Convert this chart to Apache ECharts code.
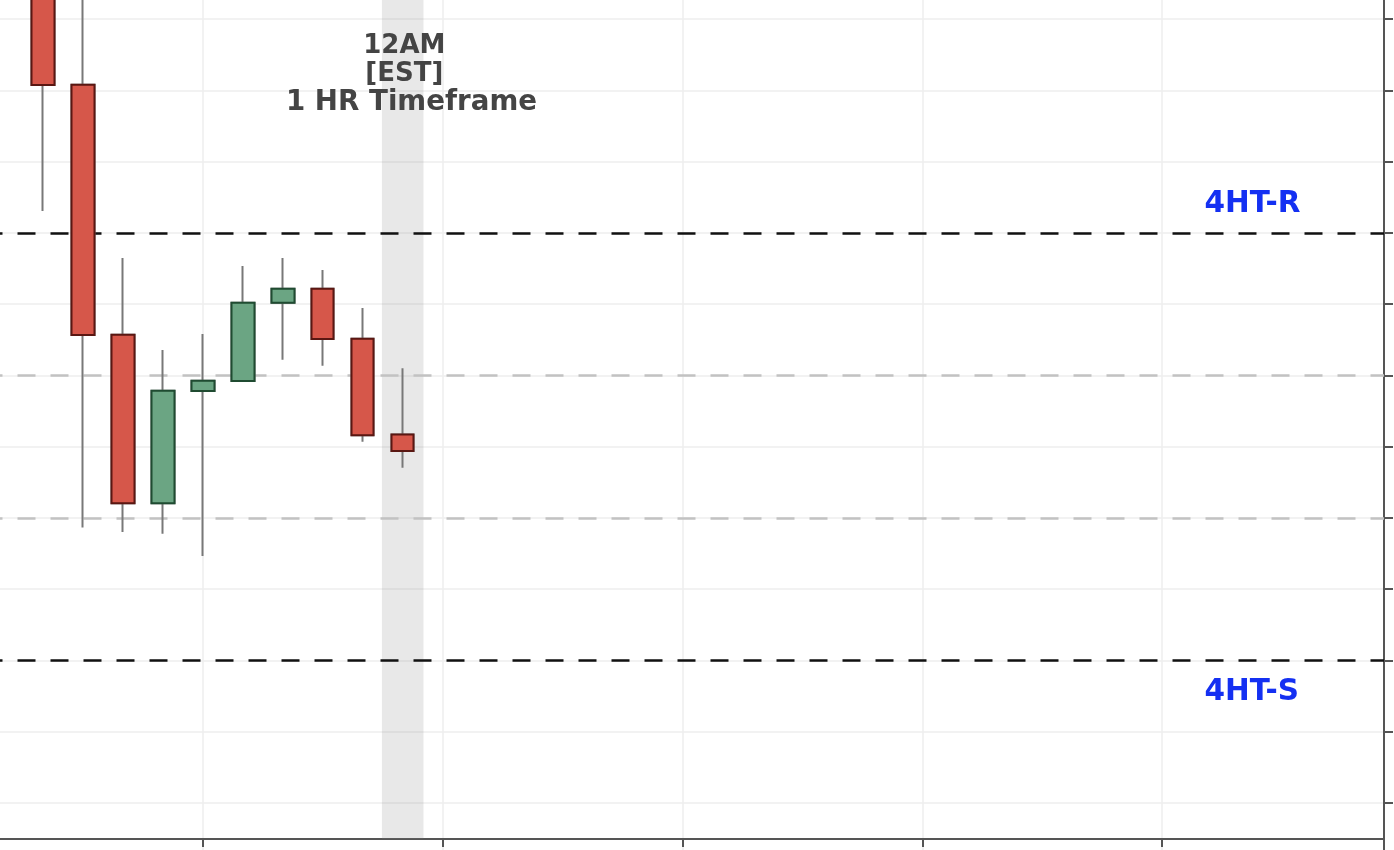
<!DOCTYPE html>
<html>
<head>
<meta charset="utf-8">
<script src="https://cdn.jsdelivr.net/npm/echarts@6/dist/echarts.min.js"></script>
<style>
html,body{margin:0;padding:0;background:#fff;width:1394px;height:850px;overflow:hidden;position:relative;}
#chart{position:absolute;left:-37px;top:-52px;width:1431px;height:926px;}
</style>
</head>
<body>
<div id="chart"></div>
<script>
// ---- data ----
const hours  = [14, 15, 16, 17, 18, 19, 20, 21, 22, 23];
const opens  = [116.0, 100.8, 65.7, 42.06, 57.8, 59.2, 70.2, 72.16, 65.14, 51.7];
const closes = [100.77, 65.66, 42.06, 57.84, 59.24, 70.2, 72.16, 65.1, 51.6, 49.37];
const lows   = [83.08, 38.65, 38.03, 37.75, 34.66, 59.1, 62.2, 61.35, 50.67, 47.02];
const highs  = [119.0, 117.0, 76.47, 63.55, 65.8, 75.35, 76.47, 74.8, 69.45, 61.0];

const resistanceLevel = 80;
const supportLevel = 20;
const midLevels = [60, 40];
const resistanceLabel = '4HT-R';
const supportLabel = '4HT-S';
const sessionHour = 23;
const sessionLines = ['12AM', '[EST]', '1 HR Timeframe'];

// ---- build ----
const full = hours.map((h, i) => [h, opens[i], closes[i], lows[i], highs[i]]);
const bodies = hours.map((h, i) => [h, opens[i], closes[i],
  Math.min(opens[i], closes[i]), Math.max(opens[i], closes[i])]);

const FONT = 'DejaVu Sans';
const chart = echarts.init(document.getElementById('chart'), null, {renderer: 'canvas'});

const option = {
  animation: false,
  backgroundColor: '#ffffff',
  grid: { left: 0, right: 10, top: 0, bottom: 0, containLabel: false },
  xAxis: {
    type: 'value', min: 12, max: 47.55, interval: 6, position: 'bottom', offset: -35,
    axisLine: { show: true, onZero: false, lineStyle: { color: '#555', width: 2 } },
    axisTick: { show: true, length: 8, lineStyle: { color: '#555', width: 2 } },
    axisLabel: { show: false },
    splitLine: { show: true, lineStyle: { color: '#eeeeee', width: 1.5 } }
  },
  yAxis: {
    type: 'value', min: -10, max: 120, interval: 10, position: 'right',
    axisLine: { show: true, onZero: false, lineStyle: { color: '#555', width: 2 } },
    axisTick: { show: true, length: 9, lineStyle: { color: '#555', width: 2 } },
    axisLabel: { show: false },
    splitLine: { show: true, lineStyle: { color: '#eeeeee', width: 1.5 } }
  },
  series: [
    {
      type: 'line', data: [], z: 1, silent: true,
      markArea: {
        z: 1, silent: true,
        itemStyle: { color: 'rgba(128,128,128,0.18)' },
        data: [[{ xAxis: sessionHour - 0.52, yAxis: -5.08 }, { xAxis: sessionHour + 0.52, yAxis: 120 }]]
      },
      markLine: {
        z: 2, silent: true, symbol: ['none', 'none'], label: { show: false },
        data: [
          { yAxis: resistanceLevel, lineStyle: { color: '#111', width: 2.6, type: [18, 15], dashOffset: 11.5 } },
          { yAxis: supportLevel, lineStyle: { color: '#111', width: 2.6, type: [18, 15], dashOffset: 11.5 } },
          ...midLevels.map(v => ({ yAxis: v, lineStyle: { color: '#c2c2c2', width: 2.6, type: [18, 15], dashOffset: 11.5 } }))
        ]
      },
      markPoint: {
        z: 10, silent: true, symbol: 'circle', symbolSize: 0,
        label: { show: true, position: 'inside', fontFamily: FONT, fontWeight: 'bold' },
        data: [
          { coord: [23.04, 106.2], name: sessionLines[0], label: { formatter: sessionLines[0], fontSize: 26, color: '#444' } },
          { coord: [23.04, 102.3], name: sessionLines[1], label: { formatter: sessionLines[1], fontSize: 26, color: '#444' } },
          { coord: [23.22, 98.2], name: sessionLines[2], label: { formatter: sessionLines[2], fontSize: 27.7, color: '#444' } },
          { coord: [44.26, 83.96], name: resistanceLabel, label: { formatter: resistanceLabel, fontSize: 29.5, color: '#1430f2' } },
          { coord: [44.24, 15.52], name: supportLabel, label: { formatter: supportLabel, fontSize: 29.5, color: '#1430f2' } }
        ]
      }
    },
    {
      type: 'candlestick', z: 5, barWidth: 23, silent: true,
      encode: { x: 0, y: [1, 2, 3, 4] },
      data: full,
      itemStyle: { color: 'transparent', color0: 'transparent', borderColor: '#787878', borderColor0: '#787878', borderWidth: 2 }
    },
    {
      type: 'candlestick', z: 6, barWidth: 23, silent: true,
      encode: { x: 0, y: [1, 2, 3, 4] },
      data: bodies,
      itemStyle: { color: '#6ba583', color0: '#d6574a', borderColor: '#1f4b31', borderColor0: '#5a1712', borderWidth: 2 }
    }
  ]
};
chart.setOption(option);
</script>
</body>
</html>
